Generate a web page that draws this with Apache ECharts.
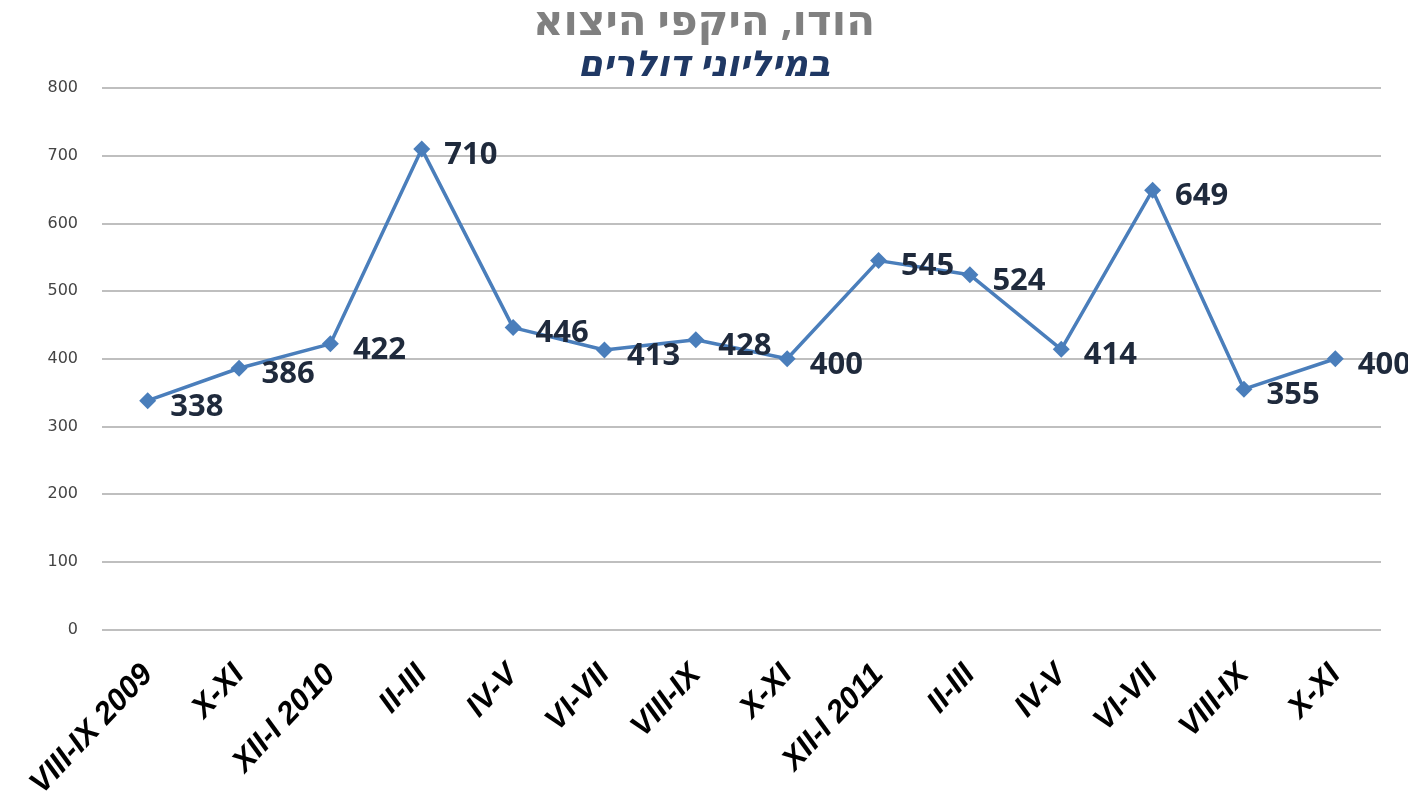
<!DOCTYPE html>
<html><head><meta charset="utf-8">
<script src="https://cdn.jsdelivr.net/npm/echarts@6/dist/echarts.min.js"></script>
<style>html,body{margin:0;padding:0;background:#fff}#c{width:1408px;height:802px}</style>
</head><body><div id="c"></div>
<script>
const categories = ['VIII-IX 2009','X-XI','XII-I 2010','II-III','IV-V','VI-VII','VIII-IX','X-XI','XII-I 2011','II-III','IV-V','VI-VII','VIII-IX','X-XI'];
const values = [338,386,422,710,446,413,428,400,545,524,414,649,355,400];
const yTicks = [0,100,200,300,400,500,600,700,800];
const titleText = 'הודו, היקפי היצוא';
const subtitleText = 'במיליוני דולרים';

const chart = echarts.init(document.getElementById('c'));
chart.setOption({
  animation:false,
  title:[
    {text:titleText,left:'center',top:-3,textStyle:{fontFamily:'Noto Sans, DejaVu Sans, sans-serif',fontSize:42,fontWeight:'bold',color:'#808080'}},
    {text:subtitleText,left:'center',top:43,textStyle:{fontFamily:'Noto Sans, DejaVu Sans, sans-serif',fontSize:36,fontWeight:'bold',fontStyle:'italic',color:'#1f3864'}}
  ],
  grid:{left:102,right:27,top:88,bottom:172},
  xAxis:{type:'category',data:categories,boundaryGap:true,
    axisLine:{show:false},axisTick:{show:false},
    axisLabel:{rotate:47,interval:0,margin:40,fontFamily:'Liberation Sans, Arial, sans-serif',fontSize:31,fontWeight:'bold',fontStyle:'italic',color:'#000'}},
  yAxis:{type:'value',min:0,max:800,interval:100,
    axisLine:{show:false},axisTick:{show:false},
    axisLabel:{margin:24,fontFamily:'DejaVu Sans, sans-serif',fontSize:16,color:'#444',formatter:v=>yTicks.includes(v)?String(v):''},
    splitLine:{lineStyle:{color:'#bfbfbf',width:2}}},
  series:[{type:'line',data:values,symbol:'diamond',symbolSize:17,
    lineStyle:{color:'#4a7ebb',width:3.5},itemStyle:{color:'#4a7ebb'},
    label:{show:true,position:'right',distance:14,offset:[0,6],fontFamily:'Open Sans, DejaVu Sans, sans-serif',fontSize:31,fontWeight:'bold',color:'#1f2a3c'}}]
});
</script></body></html>
